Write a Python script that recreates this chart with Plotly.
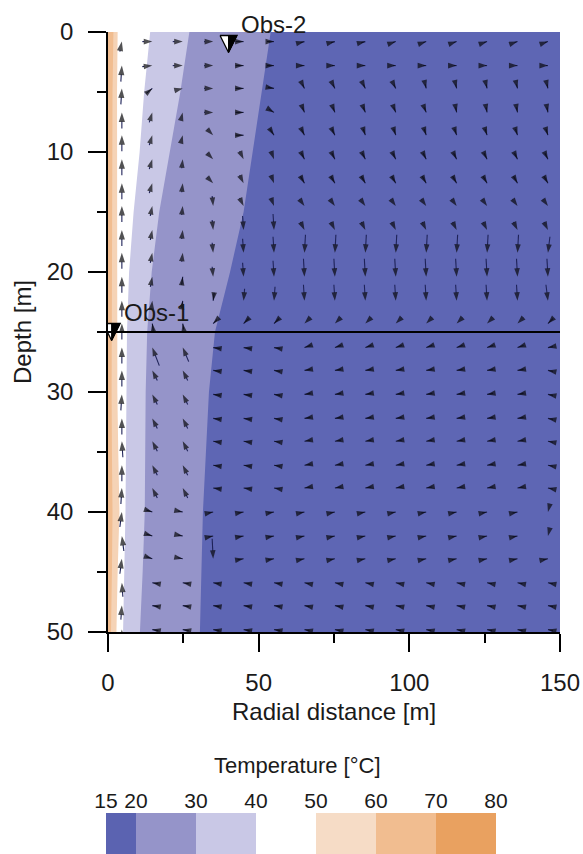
import plotly.graph_objects as go

# ---------------- data ----------------
# Isotherm positions (radial distance, m) vs depth (m)
BOUNDARY_DEPTH = [0, 5, 10, 15, 20, 25, 30, 35, 40, 45, 50]
R_ISO_20 = [54, 51, 48, 45, 40.5, 35.5, 33.5, 32.5, 31.5, 31, 30.5]
R_ISO_30 = [27, 24, 20.5, 17, 14.5, 13, 12.5, 12.3, 12.2, 11.5, 10.6]
R_ISO_40 = [14, 12, 10.5, 8.5, 7, 6.3, 6.2, 6, 5.8, 5.4, 5]
R_ISO_50 = [3.2, 3.0, 3.0, 3.0, 3.0, 3.0, 3.1, 3.4, 3.8, 3.2, 2.8]
R_ISO_60 = [1.8, 1.5, 1.4, 1.3, 1.2, 1.2, 1.2, 1.3, 1.5, 1.3, 1.0]

# Colour legend bands
BAND_LO = [15, 20, 30, 50, 60, 70]
BAND_HI = [20, 30, 40, 60, 70, 80]
BAND_COLORS = ["#5b63b1", "#9594c9", "#c9c8e6", "#f6dcc6", "#f1bd90", "#e9a160"]
CBAR_TICKS = [15, 20, 30, 40, 50, 60, 70, 80]
C_DARK, C_MED, C_LIGHT, C_WHITE, C_O1, C_O2 = "#5e66b4", "#9594c9", "#c9c8e6", "#ffffff", "#f5d3b6", "#f1bd90"

# Velocity vectors (grid)
COL_R = [4.6, 14.7, 24.8, 34.9, 45.0, 55.1, 65.2, 75.3, 85.4, 95.5, 105.6, 115.7, 125.8, 135.9, 146.0]
ROW_DEPTH = [0.8, 2.8, 4.7, 6.7, 8.6, 10.6, 12.6, 14.5, 16.5, 18.4, 20.4, 22.4, 24.3,
             26.3, 28.2, 30.2, 32.2, 34.1, 36.1, 38.0, 40.0, 42.0, 43.9, 45.9, 47.8, 49.8]
U = [
    [2, 10, 10, 9, 8, 7, 4, 4, 4, 3, 3, 3, 3, 3, 3],
    [1, 10, 10, 9, 8, 7, 4, 3, 3, 3, 3, 3, 2, 2, 2],
    [1, 6, 8, 9, 8, 6, 2, 2, 2, 2, 1, 1, 1, 1, 1],
    [0, 3, 2, 9, 8, 5, 2, 2, 2, 2, 2, 1, 1, 1, 1],
    [0, 3, 2, 6, 8, 4, 3, 3, 2, 2, 2, 2, 2, 2, 2],
    [0, 3, 1, 6, 4, 3, 3, 3, 3, 3, 3, 3, 3, 3, 3],
    [0, 3, 1, 6, 4, 3, 4, 4, 4, 4, 4, 4, 4, 4, 4],
    [0, 2, 1, 1, 4, 3, 5, 5, 5, 5, 5, 5, 5, 5, 5],
    [0, 2, 1, 1, 1, 1, 4, 4, 4, 4, 4, 4, 4, 4, 4],
    [0, 2, 1, 1, 1, 1, -1, -1, -1, -1, -1, -1, -1, -1, -2],
    [0, 2, 1, 1, 1, 1, 1, 1, 1, 1, 1, 1, 1, 1, 1],
    [0, 1, 1, -1, -1, -1, 1, 1, 1, 1, 1, 1, 1, 1, 2],
    [0, -1, -1, -4, -5, -5, -6, -6, -6, -6, -6, -6, -6, -6, -5],
    [0, -7, -6, -7, -7, -6, -6, -6, -6, -6, -6, -6, -6, -6, -5],
    [0, -5, -5, -7, -7, -6, -6, -6, -6, -6, -6, -6, -6, -6, -5],
    [1, -5, -5, -7, -7, -6, -6, -6, -6, -6, -6, -6, -6, -6, -5],
    [0, -5, -5, -7, -7, -6, -6, -6, -6, -6, -6, -6, -6, -6, -5],
    [-1, -5, -5, -7, -7, -6, -6, -6, -6, -6, -6, -6, -6, -6, -5],
    [0, -5, -5, -7, -7, -6, -6, -6, -6, -6, -6, -6, -6, -6, -5],
    [1, -5, -5, -7, -7, -6, -6, -6, -6, -6, -6, -6, -6, -6, -5],
    [2, 6, 5, 5, 6, 6, 5, 5, 5, 5, 5, 5, 5, 5, -2],
    [-2, 6, 5, 5, 6, 6, 5, 5, 5, 5, 5, 5, 5, 5, -2],
    [2, 6, 5, 1, 6, 6, 5, 5, 5, 5, 5, 5, 5, 5, 5],
    [-1, -6, -6, -6, -6, -6, -5, -5, -5, -5, -5, -5, -5, -5, -5],
    [1, -6, -6, -6, -6, -6, -5, -5, -5, -5, -5, -5, -5, -5, -5],
    [0, -6, -6, -6, -6, -6, -5, -5, -5, -5, -5, -5, -5, -5, -5],
]
W = [
    [10, 0, 0, 0, 0, 0, 1, 1, 1, 1, 1, 1, 1, 1, 1],
    [16, 1, 0, 0, 0, 0, 0, 0, 0, 0, 0, 0, 0, 0, 0],
    [16, 5, 2, 0, 0, -1, -4, -4, -4, -4, -4, -4, -4, -4, -4],
    [16, 10, 8, 0, 0, -3, -5, -5, -5, -5, -5, -5, -5, -5, -5],
    [16, 10, 8, -6, 0, -6, -6, -6, -6, -6, -6, -6, -6, -6, -6],
    [16, 10, 9, -6, -8, -8, -6, -6, -6, -6, -6, -6, -6, -6, -6],
    [16, 10, 9, -6, -8, -8, -7, -7, -7, -7, -7, -7, -7, -7, -7],
    [16, 10, 9, -10, -8, -8, -7, -7, -7, -7, -7, -7, -7, -7, -7],
    [16, 10, 9, -10, -14, -16, -8, -8, -8, -8, -8, -8, -8, -8, -8],
    [16, 10, 9, -10, -14, -16, -18, -18, -18, -18, -18, -18, -18, -18, -16],
    [16, 10, 8, -10, -14, -16, -18, -18, -18, -18, -18, -18, -18, -18, -18],
    [16, 9, 7, -8, -12, -14, -16, -16, -16, -16, -16, -16, -16, -16, -16],
    [16, 7, 6, -4, -5, -5, -6, -6, -6, -6, -6, -6, -6, -6, -5],
    [16, 18, 14, 1, 1, 1, -2, -2, -2, -2, -2, -2, -2, -2, -1],
    [16, 10, 10, 1, 1, 1, -1, -1, -1, -1, -1, -1, -1, -1, 1],
    [16, 10, 10, 1, 1, 1, -1, -1, -1, -1, -1, -1, -1, -1, 1],
    [16, 10, 10, 1, 1, 1, -1, -1, -1, -1, -1, -1, -1, -1, 1],
    [16, 10, 10, 1, 1, 1, -1, -1, -1, -1, -1, -1, -1, -1, 1],
    [16, 10, 10, 1, 1, 1, -1, -1, -1, -1, -1, -1, -1, -1, 1],
    [16, 10, 10, 1, 1, 1, -1, -1, -1, -1, -1, -1, -1, -1, 1],
    [15, -2, -1, 1, 1, 1, 1, 1, 1, 1, 1, 1, 1, 1, -8],
    [15, -2, -1, 1, 1, 1, 1, 1, 1, 1, 1, 1, 1, 1, -8],
    [15, -2, -1, -20, 1, 1, 1, 1, 1, 1, 1, 1, 1, 1, 1],
    [14, 1, 1, 1, 1, 1, 1, 1, 1, 1, 1, 1, 1, 1, 1],
    [14, 1, 1, 1, 1, 1, 1, 1, 1, 1, 1, 1, 1, 1, 1],
    [14, 1, 1, 1, 1, 1, 1, 1, 1, 1, 1, 1, 1, 1, 1],
]

INTERFACE_DEPTH = 25
OBS_NAMES = ["Obs-1", "Obs-2"]
OBS_R = [1.2, 40.0]
OBS_DEPTH = [25.0, 1.0]

X_TICKS = [0, 50, 100, 150]
X_MINOR = [25, 75, 125]
Y_TICKS = [0, 10, 20, 30, 40, 50]
Y_MINOR = [5, 15, 25, 35, 45]

# ---------------- layout geometry ----------------
W_PX, H_PX = 583, 854
PL, PR, PT, PB = 108, 560, 32, 632
CB_L, CB_R, CB_T = 106, 496, 813
FONT = "Liberation Sans, Arial, sans-serif"
TXT = "#1a1a1a"
TRI_HALF = 8.5   # px, obs marker half size

fig = go.Figure()
sx = (PR - PL) / 150.0   # px per metre (radial)
sz = (PB - PT) / 50.0    # px per metre (depth)


def band(r_bound, color):
    fig.add_trace(go.Scatter(
        x=[0] + r_bound + [0],
        y=[BOUNDARY_DEPTH[0]] + BOUNDARY_DEPTH + [BOUNDARY_DEPTH[-1]],
        mode="lines", fill="toself", fillcolor=color,
        line=dict(width=0, color=color), hoverinfo="skip", showlegend=False,
        xaxis="x", yaxis="y"))


band(R_ISO_20, C_MED)
band(R_ISO_30, C_LIGHT)
band(R_ISO_40, C_WHITE)
band(R_ISO_50, C_O1)
band(R_ISO_60, C_O2)

# quiver
xs, ys, sizes = [], [], []
for i, d in enumerate(ROW_DEPTH):
    for j, r in enumerate(COL_R):
        u, w = U[i][j], W[i][j]
        xs += [r - u / sx, r, None]
        ys += [d + w / sz, d, None]
        sizes += [0, 10 if j == 0 else 9, 0]
fig.add_trace(go.Scatter(
    x=xs, y=ys, mode="lines+markers",
    line=dict(color="#1e2258", width=1.1),
    marker=dict(symbol="arrow", size=sizes, color="#08080c", angleref="previous",
                line=dict(width=0)),
    hoverinfo="skip", showlegend=False, cliponaxis=True, xaxis="x", yaxis="y"))

fig.add_hline(y=INTERFACE_DEPTH, line=dict(color="black", width=2))

# observation points: inverted triangles, left half white, right half black
hx, hz = TRI_HALF / sx, TRI_HALF / sz
for r, d in zip(OBS_R, OBS_DEPTH):
    fig.add_trace(go.Scatter(
        x=[r - hx, r + hx, r, r - hx], y=[d - hz, d - hz, d + hz, d - hz],
        mode="lines", fill="toself", fillcolor="white",
        line=dict(color="black", width=1.3), hoverinfo="skip", showlegend=False,
        xaxis="x", yaxis="y"))
    fig.add_trace(go.Scatter(
        x=[r, r + hx, r, r], y=[d - hz, d - hz, d + hz, d - hz],
        mode="lines", fill="toself", fillcolor="black",
        line=dict(color="black", width=1), hoverinfo="skip", showlegend=False,
        xaxis="x", yaxis="y"))
for name, r, d in zip(OBS_NAMES, OBS_R, OBS_DEPTH):
    fig.add_annotation(x=r, y=d, xref="x", yref="y", text=name, showarrow=False,
                       xanchor="left", yanchor="middle", xshift=10, yshift=20,
                       font=dict(size=24, color=TXT, family=FONT))

# colour legend bars
fig.add_trace(go.Bar(
    x=[h - l for l, h in zip(BAND_LO, BAND_HI)], base=BAND_LO, y=[0] * len(BAND_LO),
    orientation="h", width=1, marker=dict(color=BAND_COLORS, line=dict(width=0)),
    hoverinfo="skip", showlegend=False, xaxis="x2", yaxis="y2"))

# dark background of the section plot (coldest band)
fig.add_shape(type="rect", xref="x domain", yref="y domain", x0=0, x1=1, y0=0, y1=1,
              fillcolor=C_DARK, line=dict(width=0), layer="below")

tick_common = dict(ticks="outside", tickcolor="black", tickwidth=1.5, ticklen=18,
                   tickfont=dict(size=24, color=TXT, family=FONT),
                   showline=True, linecolor="black", linewidth=1.5,
                   showgrid=False, zeroline=False, automargin=False)

fig.update_layout(
    width=W_PX, height=H_PX,
    margin=dict(l=0, r=0, t=0, b=0),
    paper_bgcolor="white", plot_bgcolor="white",
    font=dict(family=FONT, color=TXT),
    xaxis=dict(domain=[PL / W_PX, PR / W_PX], range=[0, 150], tickvals=X_TICKS,
               ticklabelstandoff=10,
               minor=dict(tickvals=X_MINOR, ticks="outside", ticklen=9,
                          tickcolor="black", tickwidth=1.5),
               anchor="y", **tick_common),
    yaxis=dict(domain=[(H_PX - PB) / H_PX, (H_PX - PT) / H_PX], range=[50, 0],
               tickvals=Y_TICKS, ticklabelstandoff=10,
               minor=dict(tickvals=Y_MINOR, ticks="outside", ticklen=9,
                          tickcolor="black", tickwidth=1.5),
               anchor="x", **tick_common),
    xaxis2=dict(domain=[CB_L / W_PX, CB_R / W_PX], range=[15, 80], side="top",
                tickvals=CBAR_TICKS, ticks="", showline=False, showgrid=False,
                zeroline=False, tickfont=dict(size=21, color=TXT, family=FONT),
                anchor="y2", automargin=False),
    yaxis2=dict(domain=[0, (H_PX - CB_T) / H_PX], range=[-0.5, 0.5], visible=False,
                anchor="x2"),
    bargap=0,
)

fig.add_annotation(x=(PL + PR) / 2 / W_PX, y=(H_PX - 711) / H_PX, xref="paper", yref="paper",
                   text="Radial distance [m]", showarrow=False, xanchor="center",
                   yanchor="middle", font=dict(size=24, color=TXT, family=FONT))
fig.add_annotation(x=22 / W_PX, y=(H_PX - 332) / H_PX, xref="paper", yref="paper",
                   text="Depth [m]", showarrow=False, textangle=-90, xanchor="center",
                   yanchor="middle", font=dict(size=24, color=TXT, family=FONT))
fig.add_annotation(x=297 / W_PX, y=(H_PX - 765) / H_PX, xref="paper", yref="paper",
                   text="Temperature [°C]", showarrow=False, xanchor="center",
                   yanchor="middle", font=dict(size=22, color=TXT, family=FONT))

fig.write_html("out.html", config={"displayModeBar": False},
               post_script="document.body.style.margin='0px';")
